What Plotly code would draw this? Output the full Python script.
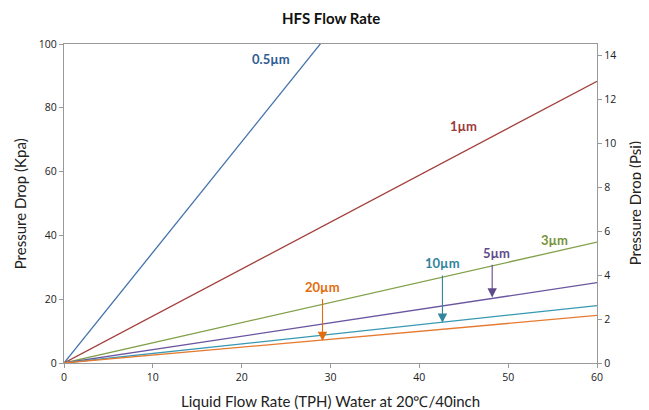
import plotly.graph_objects as go

flow_tph = [0, 60]
series_names = ["0.5µm", "1µm", "3µm", "5µm", "10µm", "20µm"]
drop_05 = [0, 208]
drop_1 = [0, 88.3]
drop_3 = [0, 37.9]
drop_5 = [0, 25.2]
drop_10 = [0, 18.0]
drop_20 = [0, 14.9]
series_values = [drop_05, drop_1, drop_3, drop_5, drop_10, drop_20]
line_colors = ["#4472A8", "#A3403D", "#82A049", "#6B55A0", "#3698B2", "#E67A32"]
label_colors = ["#2F5D94", "#9B3B3A", "#77933C", "#5F4B8B", "#31859C", "#E46C0A"]

x_ticks = [0, 10, 20, 30, 40, 50, 60]
kpa_ticks = [0, 20, 40, 60, 80, 100]
psi_ticks = [0, 2, 4, 6, 8, 10, 12, 14]

fig = go.Figure()
for name, vals, col in zip(series_names, series_values, line_colors):
    fig.add_trace(go.Scatter(x=flow_tph, y=vals, mode="lines", name=name,
                             line=dict(color=col, width=1.3), showlegend=False))
fig.add_trace(go.Scatter(x=[0], y=[0], yaxis="y2", mode="markers",
                         marker=dict(opacity=0), showlegend=False, hoverinfo="skip"))

font_lbl = "Lato, 'Open Sans', sans-serif"
tickfont = dict(family="'Open Sans', Lato, sans-serif", size=10.5, color="#222")
title_font = dict(family=font_lbl, size=15, color="#222")

# Labels (data coordinates)
labels = [
    ("0.5µm", 23.3, 95.3, None),
    ("1µm", 45.0, 74.4, None),
    ("3µm", 55.2, 38.5, None),
    ("5µm", 48.7, 34.6, (48.2, 20.5)),
    ("10µm", 42.6, 31.2, (42.6, 12.6)),
    ("20µm", 29.1, 23.8, (29.1, 6.9)),
]
for (txt, x, y, arr), col in zip(labels, label_colors):
    fig.add_annotation(x=x, y=y, text="<b>" + txt + "</b>", showarrow=False,
                       font=dict(family=font_lbl, size=13, color=col),
                       xanchor="center", yanchor="middle")
    if arr:
        fig.add_annotation(x=arr[0], y=arr[1], ax=arr[0], ay=y - 3.3, axref="x", ayref="y",
                           xref="x", yref="y", text="", showarrow=True,
                           arrowhead=2, arrowsize=1.7, arrowwidth=1.1, arrowcolor=col)

# Axis titles and chart title as paper annotations
fig.add_annotation(xref="paper", yref="paper", x=0.5, y=1.083, showarrow=False,
                   text="<b>HFS Flow Rate</b>", xanchor="center", yanchor="middle",
                   font=dict(family=font_lbl, size=15, color="#111"))
fig.add_annotation(xref="paper", yref="paper", x=0.5, y=-0.119, showarrow=False,
                   text="Liquid Flow Rate (TPH) Water at 20℃/40inch",
                   xanchor="center", yanchor="middle", font=title_font)
fig.add_annotation(xref="paper", yref="paper", x=-0.083, y=0.5, showarrow=False,
                   text="Pressure Drop (Kpa)", textangle=-90,
                   xanchor="center", yanchor="middle", font=title_font)
fig.add_annotation(xref="paper", yref="paper", x=1.071, y=0.5, showarrow=False,
                   text="Pressure Drop (Psi)", textangle=-90,
                   xanchor="center", yanchor="middle", font=title_font)

fig.update_layout(
    width=641, height=402,
    margin=dict(l=56, r=52, t=36, b=47),
    paper_bgcolor="white", plot_bgcolor="white",
    xaxis=dict(range=[0, 60], tickvals=x_ticks, showline=True, mirror=True, linecolor="#999",
               linewidth=1.3, ticks="outside", tickcolor="#999", ticklen=4, showgrid=False,
               zeroline=False, tickfont=tickfont, automargin=False),
    yaxis=dict(range=[0, 100], tickvals=kpa_ticks, showline=True, linecolor="#999",
               linewidth=1.3, ticks="outside", tickcolor="#999", ticklen=4, showgrid=False,
               zeroline=False, tickfont=tickfont, automargin=False),
    yaxis2=dict(range=[0, 14.5], tickvals=psi_ticks, overlaying="y", side="right",
                showline=True, linecolor="#999", linewidth=1.3, ticks="outside",
                tickcolor="#999", ticklen=4, showgrid=False, zeroline=False, tickfont=tickfont,
                automargin=False),
)

fig.write_html("out.html")
